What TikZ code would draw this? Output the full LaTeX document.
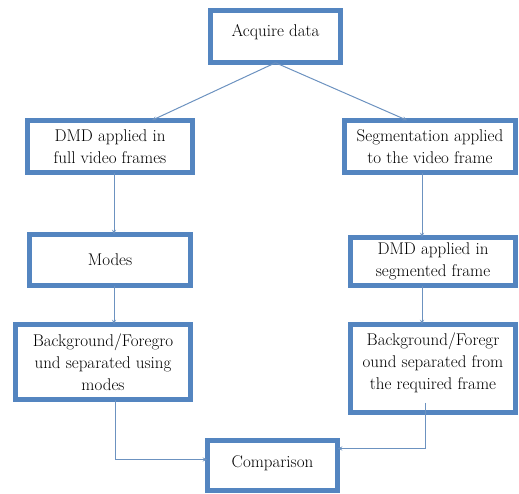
\documentclass[tikz,border=0pt]{standalone}
\usetikzlibrary{arrows.meta, positioning}

\definecolor{boxblue}{RGB}{84,133,192}
\definecolor{edgeblue}{RGB}{66,106,154}
\definecolor{lineblue}{RGB}{108,146,192}

\begin{document}
\begin{tikzpicture}[
        x=1pt, y=-1pt,
        font=\fontsize{17}{22}\selectfont,
        block/.style={
            draw=edgeblue,
            line width=0.5pt,
            double=boxblue,
            double distance=4.2pt,
            fill=white,
            align=center,
            inner sep=2pt
        },
        arrow/.style={
            -{Stealth[length=4.5pt, width=4pt]},
            draw=lineblue,
            line width=1pt
        }
    ]

    \useasboundingbox (0,0) rectangle (519,493);

    % top and bottom
    \node[block, minimum width=130pt, minimum height=52pt, text depth=12pt] (acq) at (275.5,36.5) {Acquire data};
    \node[block, minimum width=130pt, minimum height=50pt, text depth=8pt] (cmp) at (272.5,465.5) {Comparison};

    % left branch
    \node[block, minimum width=165pt, minimum height=52pt] (full) at (110,146.5) {DMD applied in\\full video frames};
    \node[block, minimum width=161pt, minimum height=51pt] (modes) at (110,260) {Modes};
    \node[block, minimum width=175pt, minimum height=75pt] (bgl) at (103,362) {Background/Foregro\\und separated using\\modes};

    % right branch
    \node[block, minimum width=171pt, minimum height=52pt] (seg) at (430,146.5) {Segmentation applied\\to the video frame};
    \node[block, minimum width=165pt, minimum height=48pt] (segdmd) at (433,261.5) {DMD applied in\\segmented frame};
    \node[block, minimum width=165pt, minimum height=88pt, text depth=14pt] (bgr) at (433,368.5) {Background/Foregr\\ound separated from\\the required frame};

    \draw[arrow] (acq.south) -- ([xshift=42pt]full.north);
    \draw[arrow] (acq.south) -- ([xshift=-23pt]seg.north);

    \draw[arrow] ([xshift=4pt]full.south) -- ([xshift=4pt]modes.north);
    \draw[arrow] ([xshift=4pt]modes.south) -- ([xshift=11pt]bgl.north);
    \draw[arrow] ([xshift=-8pt]seg.south) -- ([xshift=-11pt]segdmd.north);
    \draw[arrow] ([xshift=-11pt]segdmd.south) -- ([xshift=-11pt]bgr.north);

    \draw[arrow] ([xshift=12pt]bgl.south) |- ([yshift=6pt]cmp.west);
    \draw[arrow] ([xshift=-8pt, yshift=10pt]bgr.south) |- ([yshift=17pt]cmp.east);

\end{tikzpicture}
\end{document}
